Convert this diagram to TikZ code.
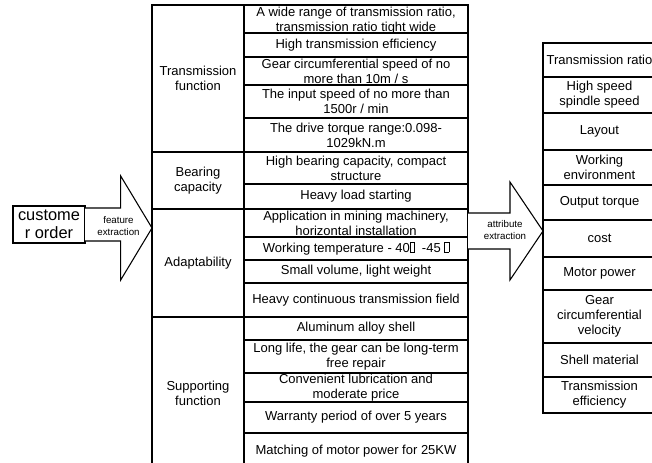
\documentclass[tikz,border=0pt]{standalone}
\usepackage{fontspec}
\setmainfont{Liberation Sans}

% cell helper: [style]{name}{x1}{y1}{x2}{y2}{text}, coordinates in pixels
\newcommand\cellat[7][]{%
  \node[cell,#1,minimum width={(#5-#3)*0.75pt},minimum height={(#6-#4)*0.75pt}]
    (#2) at ({(#3+#5)/2},{(#4+#6)/2}) {#7};}
% the unrendered glyph box printed after the temperatures
\newcommand\tofu{{\fboxsep=0pt\fboxrule=0.5pt\fbox{\rule{0pt}{7pt}\hspace{2.6pt}}}}

\tikzset{
  cell/.style={draw,line width=0.8pt,inner sep=0pt,align=center,
    font=\fontsize{9.75}{11.25}\selectfont},
  celltext/.style={inner sep=0pt,align=center,
    font=\fontsize{9.75}{11.25}\selectfont},
  bigtext/.style={font=\fontsize{12.3}{13.6}\selectfont},
  arrowline/.style={draw,line width=0.8pt,line join=miter,fill=white},
  arrowlabel/.style={align=center,inner sep=0pt,
    font=\fontsize{7.3}{8.8}\selectfont}
}

\begin{document}
\begin{tikzpicture}[x=0.75pt,y=-0.75pt]
\useasboundingbox (0,0) rectangle (652,463);

% order box and first block arrow
\cellat[bigtext]{order}{13}{206}{85}{243}{custome\\r order}
\path[arrowline] (85,208) -- (120.7,208) -- (120.7,176) -- (152,228)
  -- (120.7,280) -- (120.7,241) -- (85,241);
\node[arrowlabel] (fe) at (118.5,226) {feature\\extraction};

% middle table: categories
\cellat{cat1}{152}{5}{244}{152}{Transmission\\function}
\cellat{cat2}{152}{152}{244}{209}{Bearing\\capacity}
\cellat{cat3}{152}{209}{244}{317}{Adaptability}
\cellat{cat4}{152}{317}{244}{470}{Supporting\\function}

% middle table: features
\cellat{f1}{244}{5}{468}{33}{}
\node[celltext] (f1text) at (356,20.5) {A wide range of transmission ratio,\\transmission ratio tight wide};
\cellat{f2}{244}{33}{468}{57}{High transmission efficiency}
\cellat{f3}{244}{57}{468}{85}{Gear circumferential speed of no\\more than 10m / s}
\cellat{f4}{244}{85}{468}{118}{The input speed of no more than\\1500r / min}
\cellat{f5}{244}{118}{468}{152}{The drive torque range:0.098-\\1029kN.m}
\cellat{f6}{244}{152}{468}{184}{High bearing capacity, compact\\structure}
\cellat{f7}{244}{184}{468}{209}{Heavy load starting}
\cellat{f8}{244}{209}{468}{237}{Application in mining machinery,\\horizontal installation}
\cellat{f9}{244}{237}{468}{260}{Working temperature - 40\tofu\ \ -45 \tofu}
\cellat{f10}{244}{260}{468}{283}{Small volume, light weight}
\cellat{f11}{244}{283}{468}{317}{Heavy continuous transmission field}
\cellat{f12}{244}{317}{468}{340}{Aluminum alloy shell}
\cellat{f13}{244}{340}{468}{373}{Long life, the gear can be long-term\\free repair}
\cellat{f14}{244}{373}{468}{402}{Convenient lubrication and\\moderate price}
\cellat{f15}{244}{402}{468}{433}{Warranty period of over 5 years}
\cellat{f16}{244}{433}{468}{470}{Matching of motor power for 25KW}

% second block arrow
\path[arrowline] (468,213) -- (510,213) -- (510,182) -- (543,231)
  -- (510,280) -- (510,249) -- (468,249);
\node[arrowlabel] (ae) at (505,230) {attribute\\extraction};

% attribute table
\cellat{t1}{543}{43}{656}{77}{Transmission ratio}
\cellat{t2}{543}{77}{656}{113}{High speed\\spindle speed}
\cellat{t3}{543}{113}{656}{150}{Layout}
\cellat{t4}{543}{150}{656}{185}{Working\\environment}
\cellat{t5}{543}{185}{656}{220}{Output torque}
\cellat{t6}{543}{220}{656}{257}{cost}
\cellat{t7}{543}{257}{656}{290}{Motor power}
\cellat{t8}{543}{290}{656}{343}{Gear\\circumferential\\velocity}
\cellat{t9}{543}{343}{656}{377}{Shell material}
\cellat{t10}{543}{377}{656}{413}{Transmission\\efficiency}
\end{tikzpicture}
\end{document}
